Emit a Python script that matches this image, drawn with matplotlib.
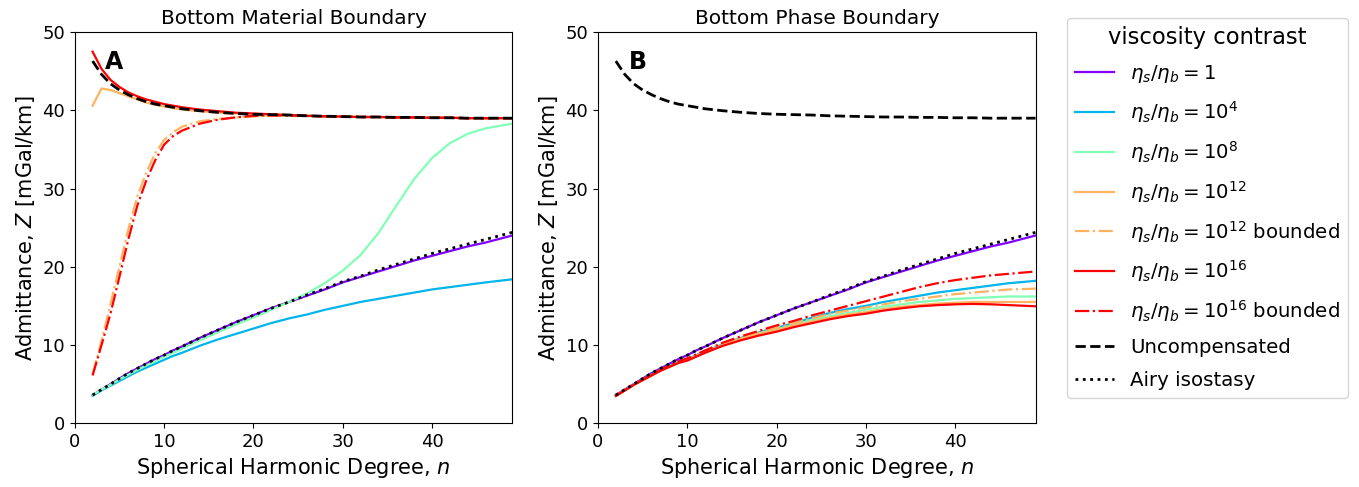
import matplotlib.pyplot as plt
import numpy as np

# spherical harmonic degree
n = [2, 3, 4, 5, 6, 7, 8, 9, 10, 11, 12, 14, 16, 18, 20, 22, 24, 26, 28,
     30, 32, 34, 36, 38, 40, 42, 44, 46, 49]

uncompensated = [46.3, 44.6, 43.4, 42.6, 42.0, 41.5, 41.1, 40.8, 40.6, 40.4, 40.2, 39.95, 39.75, 39.6, 39.5,
                 39.45, 39.4, 39.3, 39.25, 39.2, 39.15, 39.15, 39.1, 39.1, 39.05, 39.05, 39.0, 39.0, 39.0]
airy = [3.6, 4.3, 5.0, 5.7, 6.4, 7.0, 7.6, 8.2, 8.7, 9.3, 9.8, 10.9, 11.9, 12.9, 13.8,
        14.7, 15.5, 16.4, 17.2, 18.1, 18.8, 19.6, 20.3, 21.0, 21.7, 22.3, 22.9, 23.5, 24.4]

# panel A: bottom material boundary
mat_1 = [3.6, 4.3, 5.0, 5.7, 6.4, 7.0, 7.6, 8.2, 8.7, 9.3, 9.8, 10.9, 11.9, 12.9, 13.8,
         14.7, 15.5, 16.3, 17.1, 18.0, 18.7, 19.4, 20.1, 20.8, 21.4, 22.0, 22.6, 23.1, 24.0]
mat_4 = [3.5, 4.2, 4.8, 5.4, 6.0, 6.6, 7.1, 7.6, 8.1, 8.6, 9.0, 9.9, 10.7, 11.4, 12.1,
         12.8, 13.4, 13.9, 14.5, 15.0, 15.5, 15.9, 16.3, 16.7, 17.1, 17.4, 17.7, 18.0, 18.4]
mat_8 = [3.6, 4.3, 4.9, 5.6, 6.2, 6.8, 7.4, 7.9, 8.5, 9.0, 9.5, 10.6, 11.6, 12.6, 13.5,
         14.5, 15.5, 16.6, 17.9, 19.5, 21.5, 24.3, 27.8, 31.2, 33.9, 35.8, 37.0, 37.7, 38.3]
mat_12 = [40.6, 42.8, 42.6, 42.2, 41.8, 41.4, 41.0, 40.7, 40.5, 40.3, 40.1, 39.9, 39.7, 39.6, 39.5,
          39.45, 39.4, 39.3, 39.25, 39.2, 39.15, 39.15, 39.1, 39.1, 39.05, 39.05, 39.0, 39.0, 39.0]
mat_12b = [6.3, 10.5, 15.2, 20.0, 24.8, 29.0, 32.0, 34.5, 36.2, 37.2, 37.9, 38.6, 38.9, 39.1, 39.2,
           39.3, 39.3, 39.25, 39.2, 39.2, 39.15, 39.15, 39.1, 39.1, 39.05, 39.05, 39.0, 39.0, 39.0]
mat_16 = [47.5, 45.3, 43.9, 43.0, 42.3, 41.8, 41.4, 41.1, 40.8, 40.6, 40.4, 40.1, 39.9, 39.7, 39.6,
          39.5, 39.4, 39.3, 39.25, 39.2, 39.15, 39.15, 39.1, 39.1, 39.05, 39.05, 39.0, 39.0, 39.0]
mat_16b = [6.1, 10.0, 14.0, 18.7, 23.5, 27.8, 31.0, 33.6, 35.6, 36.7, 37.4, 38.3, 38.8, 39.1, 39.3,
           39.35, 39.35, 39.3, 39.25, 39.2, 39.15, 39.15, 39.1, 39.1, 39.05, 39.05, 39.0, 39.0, 39.0]

# panel B: bottom phase boundary
ph_1 = mat_1
ph_4 = [3.5, 4.2, 4.9, 5.6, 6.2, 6.8, 7.3, 7.8, 8.2, 8.7, 9.2, 10.1, 10.9, 11.6, 12.2,
        12.8, 13.5, 14.1, 14.6, 15.0, 15.5, 15.9, 16.3, 16.7, 17.0, 17.3, 17.6, 17.9, 18.2]
ph_8 = [3.5, 4.2, 4.9, 5.5, 6.1, 6.7, 7.2, 7.7, 8.1, 8.6, 9.1, 10.0, 10.8, 11.5, 12.0,
        12.6, 13.2, 13.7, 14.1, 14.5, 14.9, 15.2, 15.5, 15.7, 15.9, 16.0, 16.1, 16.2, 16.2]
ph_12 = [3.5, 4.2, 4.9, 5.5, 6.1, 6.7, 7.2, 7.7, 8.1, 8.6, 9.1, 10.0, 10.8, 11.4, 11.9,
         12.5, 13.0, 13.5, 13.9, 14.2, 14.6, 14.9, 15.1, 15.3, 15.4, 15.5, 15.5, 15.5, 15.5]
ph_12b = [3.5, 4.2, 4.9, 5.5, 6.2, 6.8, 7.3, 7.8, 8.2, 8.7, 9.2, 10.1, 10.9, 11.6, 12.2,
          12.8, 13.4, 14.0, 14.4, 14.8, 15.2, 15.6, 15.9, 16.2, 16.5, 16.7, 16.9, 17.1, 17.2]
ph_16 = [3.5, 4.2, 4.9, 5.5, 6.1, 6.7, 7.2, 7.7, 8.0, 8.5, 9.0, 9.9, 10.6, 11.2, 11.7,
         12.3, 12.8, 13.3, 13.7, 14.0, 14.4, 14.7, 14.95, 15.1, 15.2, 15.25, 15.2, 15.1, 14.95]
ph_16b = [3.5, 4.2, 4.9, 5.6, 6.2, 6.8, 7.4, 7.9, 8.3, 8.8, 9.3, 10.3, 11.1, 11.8, 12.5,
          13.1, 13.8, 14.4, 15.0, 15.6, 16.2, 16.8, 17.4, 17.9, 18.3, 18.6, 18.9, 19.1, 19.4]

exponents = ['1', '10^{4}', '10^{8}', '10^{12}', '10^{16}']
colors = plt.cm.rainbow(np.linspace(0, 1, 5))

fig = plt.figure(figsize=(13.59, 4.87), dpi=100)
axA = fig.add_axes([0.055, 0.131, 0.322, 0.803])
axB = fig.add_axes([0.440, 0.131, 0.322, 0.803])

panels = [
    (axA, 'Bottom Material Boundary', 'A', [mat_1, mat_4, mat_8, mat_12, mat_16], [mat_12b, mat_16b]),
    (axB, 'Bottom Phase Boundary', 'B', [ph_1, ph_4, ph_8, ph_12, ph_16], [ph_12b, ph_16b]),
]

for ax, title, letter, solid, bounded in panels:
    for i in range(5):
        ax.plot(n, solid[i], color=colors[i], lw=1.6,
                label=r'$\eta_s/\eta_b = %s$' % exponents[i])
        if i == 3:
            ax.plot(n, bounded[0], color=colors[3], lw=1.6, ls='-.',
                    label=r'$\eta_s/\eta_b = 10^{12}$ bounded')
        if i == 4:
            ax.plot(n, bounded[1], color=colors[4], lw=1.6, ls='-.',
                    label=r'$\eta_s/\eta_b = 10^{16}$ bounded')
    ax.plot(n, uncompensated, 'k--', lw=2, label='Uncompensated')
    ax.plot(n, airy, 'k:', lw=2, label='Airy isostasy')

    ax.set_xlim(0, 49)
    ax.set_ylim(0, 50)
    ax.set_title(title, fontsize=14.5)
    ax.set_xlabel('Spherical Harmonic Degree, $n$', fontsize=15)
    ax.set_ylabel('Admittance, $Z$ [mGal/km]', fontsize=15)
    ax.tick_params(labelsize=13)
    ax.text(0.07, 0.955, letter, transform=ax.transAxes, fontsize=17,
            fontweight='bold', va='top')

handles, labels = axA.get_legend_handles_labels()
fig.legend(handles, labels, title='viscosity contrast', loc='upper left',
           bbox_to_anchor=(0.785, 0.963), borderaxespad=0, fontsize=14.2,
           title_fontsize=16.3, labelspacing=0.71)

plt.savefig('out.png')
plt.close()
